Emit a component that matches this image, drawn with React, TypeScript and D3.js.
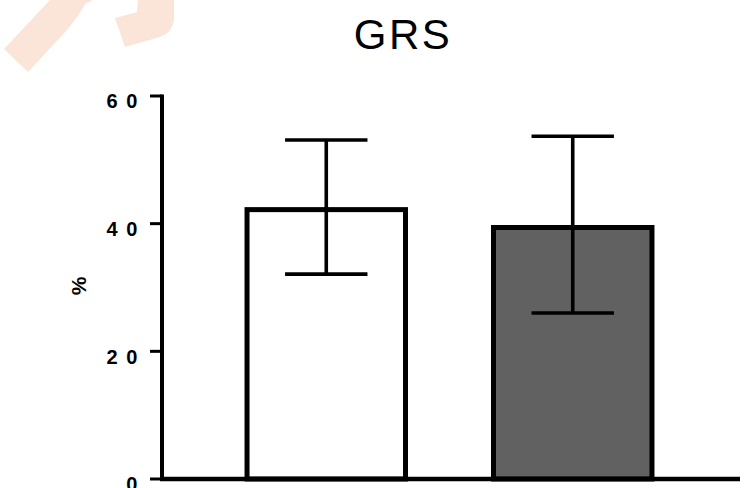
import React from "react";
import * as d3 from "d3";

const categories = ["Group A", "Group B"];
const means = [42.2, 39.4];
const upper = [53.1, 53.7];
const lower = [32.1, 26.0];
const fills = ["#ffffff", "#616161"];
const yTicks = [0, 20, 40, 60];
const tickLabels = ["0", "2 0", "4 0", "6 0"];
const title = "GRS";
const yLabel = "%";

export default function App() {
  const W = 744;
  const H = 488;
  const x = d3
    .scaleBand<string>()
    .domain(categories)
    .range([162, 737])
    .paddingInner(0.357)
    .paddingOuter(0.345);
  const y = d3.scaleLinear().domain([0, 60]).range([479, 96]);
  const bw = x.bandwidth();
  const capW = bw * 0.52;
  const font = "'Liberation Sans', Arial, Helvetica, sans-serif";

  return (
    <svg
      width={W}
      height={H}
      viewBox={`0 0 ${W} ${H}`}
      style={{ position: "absolute", left: 0, top: 0, background: "#fff" }}
    >
      <rect x={0} y={0} width={W} height={H} fill="#fff" />
      {/* watermark */}
      <g fill="#fbe5d8">
        <path d="M4,49 L50,0 L93,0 L85,4 Q80,14 67,30 L28,72 Z" />
        <path d="M115,18 L137,12 L138,0 L174,0 L174,20 Q172,33 160,37 L125,47 Z" />
      </g>

      <text
        x={403}
        y={49.3}
        textAnchor="middle"
        fontFamily={font}
        fontSize={42}
        letterSpacing={2.5}
        fill="#000"
      >
        {title}
      </text>

      {/* bars */}
      {categories.map((c, i) => (
        <rect
          key={c}
          x={x(c)}
          y={y(means[i])}
          width={bw}
          height={y(0) - y(means[i])}
          fill={fills[i]}
          stroke="#000"
          strokeWidth={5}
        />
      ))}

      {/* error bars */}
      {categories.map((c, i) => {
        const cx = (x(c) as number) + bw / 2;
        return (
          <g key={c} stroke="#000" strokeWidth={3.6}>
            <line x1={cx} x2={cx} y1={y(upper[i])} y2={y(lower[i])} />
            <line x1={cx - capW / 2} x2={cx + capW / 2} y1={y(upper[i])} y2={y(upper[i])} />
            <line x1={cx - capW / 2} x2={cx + capW / 2} y1={y(lower[i])} y2={y(lower[i])} />
          </g>
        );
      })}

      {/* y axis */}
      <line x1={162} x2={162} y1={y(60) - 1.5} y2={y(0)} stroke="#000" strokeWidth={4} />
      {yTicks.map((t, i) => (
        <g key={t}>
          <line x1={150} x2={162} y1={y(t)} y2={y(t)} stroke="#000" strokeWidth={3} />
          <text
            x={139}
            y={y(t) + 12.3}
            textAnchor="end"
            fontFamily={font}
            fontWeight="bold"
            fontSize={20}
            letterSpacing={1.6}
            fill="#000"
          >
            {tickLabels[i]}
          </text>
        </g>
      ))}
      {/* baseline */}
      <line x1={160} x2={740} y1={y(0)} y2={y(0)} stroke="#000" strokeWidth={4.5} />

      <text
        transform={`translate(86,286) rotate(-90)`}
        textAnchor="middle"
        fontFamily={font}
        fontWeight="bold"
        fontSize={21}
        fill="#000"
      >
        {yLabel}
      </text>
    </svg>
  );
}
